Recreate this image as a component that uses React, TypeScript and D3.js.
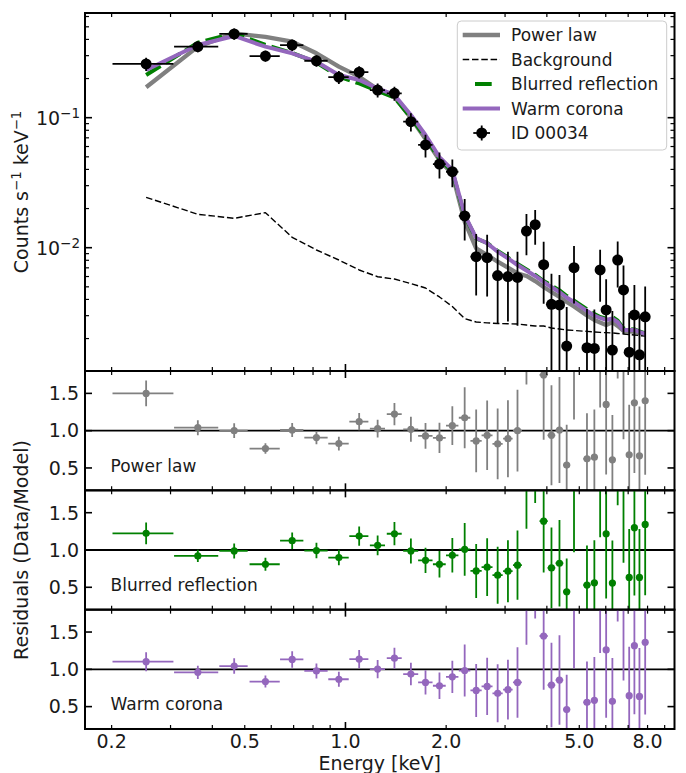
import React from 'react';
import * as d3 from 'd3';

// Spectral bins: centre energy and half-width (keV)
const energy = [0.2536, 0.362, 0.4649, 0.5765, 0.693, 0.819, 0.9556, 1.099, 1.248, 1.401, 1.569, 1.735, 1.91, 2.087, 2.272, 2.459, 2.652, 2.851, 3.06, 3.268, 3.476, 3.691, 3.913, 4.129, 4.363, 4.585, 4.822, 5.272, 5.547, 5.772, 6.016, 6.28, 6.513, 6.779, 7.05, 7.307, 7.566, 7.87];
const energyErr = [0.0524, 0.0546, 0.0452, 0.0597, 0.0555, 0.0656, 0.0671, 0.072, 0.065, 0.072, 0.081, 0.086, 0.084, 0.089, 0.09, 0.095, 0.1, 0.1, 0.1, 0.1, 0.105, 0.11, 0.11, 0.11, 0.115, 0.11, 0.12, 0.13, 0.13, 0.12, 0.12, 0.13, 0.12, 0.13, 0.13, 0.13, 0.13, 0.14];

// Observed count rate (counts s^-1 keV^-1) and 1-sigma errors
const counts = [0.259, 0.352, 0.441, 0.298, 0.362, 0.274, 0.205, 0.224, 0.163, 0.154, 0.0932, 0.0617, 0.044, 0.0384, 0.01754, 0.00853, 0.00838, 0.0061, 0.006, 0.00591, 0.01343, 0.01503, 0.0074, 0.00367, 0.00363, 0.00175, 0.00702, 0.0017, 0.00168, 0.00674, 0.00332, 0.00163, 0.00804, 0.00473, 0.00157, 0.00304, 0.0015, 0.00294];
const countsErr = [0.03, 0.033, 0.044, 0.0286, 0.0355, 0.028, 0.0236, 0.0242, 0.0199, 0.0188, 0.015, 0.0122, 0.01, 0.0092, 0.0062, 0.00424, 0.00417, 0.0035, 0.0033, 0.0034, 0.0047, 0.0045, 0.0037, 0.00264, 0.00254, 0.00175, 0.0033, 0.00167, 0.00167, 0.0029, 0.0024, 0.00163, 0.0031, 0.00256, 0.00157, 0.00213, 0.0015, 0.0021];

// Folded model curves at the bin centres
const powerLaw = [0.1713, 0.3517, 0.4458, 0.4176, 0.3843, 0.3129, 0.2468, 0.2067, 0.1654, 0.1443, 0.0995, 0.0686, 0.0473, 0.0369, 0.01585, 0.00989, 0.00879, 0.0078, 0.00704, 0.00635, 0.00606, 0.00554, 0.00498, 0.00456, 0.00418, 0.00382, 0.00353, 0.00301, 0.00278, 0.00266, 0.00254, 0.00268, 0.0025, 0.00229, 0.00227, 0.00225, 0.00221, 0.00217];
const background = [0.0244, 0.01807, 0.01683, 0.01859, 0.01202, 0.0096, 0.00804, 0.00674, 0.00598, 0.00574, 0.0053, 0.0049, 0.00418, 0.00353, 0.00285, 0.00268, 0.00264, 0.00261, 0.0026, 0.00259, 0.00254, 0.0025, 0.0025, 0.00241, 0.00237, 0.00233, 0.00231, 0.00227, 0.00225, 0.00223, 0.00222, 0.00221, 0.00219, 0.00217, 0.00215, 0.00213, 0.00211, 0.00209];
const blurredReflection = [0.213, 0.3775, 0.4458, 0.3624, 0.3146, 0.2658, 0.2074, 0.1833, 0.1605, 0.143, 0.1003, 0.0704, 0.0481, 0.0386, 0.01753, 0.01177, 0.01087, 0.00943, 0.0084, 0.00749, 0.0068, 0.00617, 0.00554, 0.00512, 0.00469, 0.00425, 0.00392, 0.00335, 0.00309, 0.00293, 0.00285, 0.00293, 0.00275, 0.00239, 0.00237, 0.00235, 0.00227, 0.00219];
const warmCorona = [0.2327, 0.3624, 0.4251, 0.3517, 0.3129, 0.2696, 0.213, 0.195, 0.1678, 0.1495, 0.1049, 0.0736, 0.0498, 0.0396, 0.01784, 0.01188, 0.01081, 0.00932, 0.00829, 0.00736, 0.00668, 0.00606, 0.00545, 0.00498, 0.00456, 0.00414, 0.00382, 0.00326, 0.00301, 0.00288, 0.00278, 0.00285, 0.00268, 0.00233, 0.00233, 0.00233, 0.00225, 0.00217];

// Data/model ratios for each fit
const ratioPowerLaw = [1.499, 1.04, 1.0, 0.76, 1.009, 0.907, 0.827, 1.12, 1.027, 1.223, 1.018, 0.929, 0.903, 1.067, 1.173, 0.863, 0.938, 0.823, 0.893, 1.0, 2.22, 2.66, 1.747, 0.938, 1.009, 0.539, 2.2, 0.623, 0.645, 2.4, 1.352, 0.609, 2.98, 1.84, 0.676, 1.373, 0.663, 1.4];
const ratioPowerLawErr = [0.173, 0.1, 0.1, 0.071, 0.093, 0.089, 0.093, 0.116, 0.12, 0.149, 0.167, 0.173, 0.204, 0.26, 0.41, 0.42, 0.467, 0.473, 0.516, 0.547, 0.6, 0.7, 0.87, 0.67, 0.71, 0.54, 1.05, 0.61, 0.64, 1.09, 0.94, 0.6, 1.28, 0.955, 0.67, 0.94, 0.66, 0.99];
const ratioBlurred = [1.223, 0.92, 0.987, 0.809, 1.125, 0.992, 0.898, 1.187, 1.063, 1.218, 0.987, 0.862, 0.809, 0.929, 1.009, 0.72, 0.769, 0.662, 0.716, 0.796, 2.0, 2.35, 1.387, 0.76, 0.822, 0.44, 1.84, 0.529, 0.56, 2.1, 1.218, 0.556, 2.6, 1.85, 0.632, 1.299, 0.632, 1.343];
const ratioBlurredErr = [0.145, 0.082, 0.1, 0.087, 0.11, 0.104, 0.104, 0.129, 0.133, 0.156, 0.167, 0.169, 0.178, 0.231, 0.353, 0.362, 0.387, 0.382, 0.416, 0.464, 0.715, 0.72, 0.69, 0.54, 0.58, 0.445, 0.87, 0.53, 0.57, 0.93, 0.87, 0.57, 1.0, 1.02, 0.65, 0.91, 0.65, 0.95];
const ratioWarmCorona = [1.102, 0.96, 1.044, 0.836, 1.133, 0.978, 0.867, 1.137, 1.003, 1.149, 0.936, 0.824, 0.78, 0.9, 0.984, 0.717, 0.771, 0.678, 0.727, 0.824, 2.05, 2.4, 1.447, 0.789, 0.856, 0.46, 1.9, 0.557, 0.584, 2.15, 1.26, 0.571, 2.65, 1.85, 0.647, 1.317, 0.637, 1.363];
const ratioWarmCoronaErr = [0.127, 0.089, 0.104, 0.08, 0.111, 0.1, 0.1, 0.122, 0.122, 0.14, 0.151, 0.162, 0.178, 0.216, 0.349, 0.356, 0.384, 0.389, 0.4, 0.473, 0.72, 0.72, 0.72, 0.567, 0.6, 0.467, 0.89, 0.547, 0.58, 0.93, 0.91, 0.58, 1.01, 1.0, 0.657, 0.92, 0.65, 0.97];

const xTickValues = [0.2, 0.5, 1.0, 2.0, 5.0, 8.0];
const xTickLabels = ['0.2', '0.5', '1.0', '2.0', '5.0', '8.0'];
const ratioTickValues = [0.5, 1.0, 1.5];
const ratioTickLabels = ['0.5', '1.0', '1.5'];
const countTickValues = [0.1, 0.01];
const countTickExponents = ['−1', '−2'];

const FONT = '"DejaVu Sans", "Liberation Sans", sans-serif';
const GREY = '#808080';
const GREEN = '#008000';
const PURPLE = '#9467bd';

const W = 686;
const H = 773;
const LEFT = 85;
const RIGHT = 674.5;
const TOP = 13;
const MAIN_BOTTOM = 371;
const RATIO_H = 119.33;

const isDecade = (v: number) => Math.abs(Math.log10(v) - Math.round(Math.log10(v))) < 1e-6;

export default function App() {
  const x = d3.scaleLog().domain([0.1665, 9.63]).range([LEFT, RIGHT]);
  const y = d3.scaleLog().domain([0.001126, 0.6386]).range([MAIN_BOTTOM, TOP]).clamp(true);

  const bins = energy.map((e, i) => ({
    e,
    ex: energyErr[i],
    c: counts[i],
    ce: countsErr[i],
  }));

  const models = [
    { key: 'pl', values: powerLaw, color: GREY, width: 4.3, dash: undefined as string | undefined },
    { key: 'bg', values: background, color: '#000', width: 1.4, dash: '6.5,2.8' },
    { key: 'br', values: blurredReflection, color: GREEN, width: 4, dash: '17,6' },
    { key: 'wc', values: warmCorona, color: PURPLE, width: 4, dash: undefined },
  ];

  const modelLine = (vals: number[]) =>
    d3.line<number>().x((_, i) => x(energy[i])).y((v) => y(v))(vals) || '';

  const ratioPanels = [
    { label: 'Power law', color: GREY, ratio: ratioPowerLaw, err: ratioPowerLawErr },
    { label: 'Blurred reflection', color: GREEN, ratio: ratioBlurred, err: ratioBlurredErr },
    { label: 'Warm corona', color: PURPLE, ratio: ratioWarmCorona, err: ratioWarmCoronaErr },
  ].map((p, i) => {
    const top = MAIN_BOTTOM + i * RATIO_H;
    const bottom = top + RATIO_H;
    return { ...p, top, bottom, ys: d3.scaleLinear().domain([0.2, 1.8]).range([bottom, top]) };
  });

  const xTicks = x.ticks();
  const yTicks = y.ticks();

  const tickLen = (major: boolean) => (major ? 7 : 4);
  const tickW = (major: boolean) => (major ? 1.6 : 1.2);

  const xTickMarks = (top: number, bottom: number, key: string) =>
    xTicks.map((t, i) => {
      const major = isDecade(t);
      const px = x(t);
      return (
        <g key={`${key}-x${i}`} stroke="#000" strokeWidth={tickW(major)}>
          <line x1={px} x2={px} y1={bottom} y2={bottom - tickLen(major)} />
          <line x1={px} x2={px} y1={top} y2={top + tickLen(major)} />
        </g>
      );
    });

  const legendRows = [41, 65.5, 90, 114.5, 139];
  const legendLabels = ['Power law', 'Background', 'Blurred reflection', 'Warm corona', 'ID 00034'];

  return (
    <svg
      width={W}
      height={H}
      viewBox={`0 0 ${W} ${H}`}
      style={{ position: 'absolute', left: 0, top: 0, background: '#fff' }}
      fontFamily={FONT}
    >
      <defs>
        <clipPath id="clip-main">
          <rect x={LEFT} y={TOP} width={RIGHT - LEFT} height={MAIN_BOTTOM - TOP} />
        </clipPath>
        {ratioPanels.map((p, i) => (
          <clipPath id={`clip-r${i}`} key={i}>
            <rect x={LEFT} y={p.top} width={RIGHT - LEFT} height={p.bottom - p.top} />
          </clipPath>
        ))}
      </defs>

      {/* Spectrum panel */}
      <g clipPath="url(#clip-main)">
        {models.map((m) => (
          <path
            key={m.key}
            d={modelLine(m.values)}
            fill="none"
            stroke={m.color}
            strokeWidth={m.width}
            strokeDasharray={m.dash}
            strokeLinejoin="round"
          />
        ))}
        <g stroke="#000" strokeWidth={1.8}>
          {bins.map((b, i) => {
            const lo = b.c - b.ce > 0 ? b.c - b.ce : 1e-6;
            return (
              <g key={i}>
                <line x1={x(b.e - b.ex)} x2={x(b.e + b.ex)} y1={y(b.c)} y2={y(b.c)} />
                <line x1={x(b.e)} x2={x(b.e)} y1={y(lo)} y2={y(b.c + b.ce)} />
              </g>
            );
          })}
        </g>
        {bins.map((b, i) => (
          <circle key={i} cx={x(b.e)} cy={y(b.c)} r={5.5} fill="#000" />
        ))}
      </g>

      {/* Ratio panels */}
      {ratioPanels.map((p, pi) => (
        <g key={pi}>
          <g clipPath={`url(#clip-r${pi})`}>
            <line x1={LEFT} x2={RIGHT} y1={p.ys(1)} y2={p.ys(1)} stroke="#000" strokeWidth={1.8} />
            <g stroke={p.color} strokeWidth={1.8}>
              {energy.map((e, i) => (
                <g key={i}>
                  <line
                    x1={x(e - energyErr[i])}
                    x2={x(e + energyErr[i])}
                    y1={p.ys(p.ratio[i])}
                    y2={p.ys(p.ratio[i])}
                  />
                  <line
                    x1={x(e)}
                    x2={x(e)}
                    y1={p.ys(p.ratio[i] - p.err[i])}
                    y2={p.ys(p.ratio[i] + p.err[i])}
                  />
                </g>
              ))}
            </g>
            {energy.map((e, i) => (
              <circle key={i} cx={x(e)} cy={p.ys(p.ratio[i])} r={3.6} fill={p.color} />
            ))}
          </g>
          <text x={110.5} y={p.top + 100.7} fontSize={17} fill="#1a1a1a">
            {p.label}
          </text>
          {xTickMarks(p.top, p.bottom, `r${pi}`)}
          {ratioTickValues.map((t, i) => (
            <g key={i} stroke="#000" strokeWidth={1.6}>
              <line x1={LEFT} x2={LEFT + 7} y1={p.ys(t)} y2={p.ys(t)} />
              <line x1={RIGHT} x2={RIGHT - 7} y1={p.ys(t)} y2={p.ys(t)} />
            </g>
          ))}
          {ratioTickValues.map((t, i) => (
            <text key={`l${i}`} x={79} y={p.ys(t) + 6.8} fontSize={19} textAnchor="end" fill="#1a1a1a">
              {ratioTickLabels[i]}
            </text>
          ))}
          <rect
            x={LEFT}
            y={p.top}
            width={RIGHT - LEFT}
            height={p.bottom - p.top}
            fill="none"
            stroke="#000"
            strokeWidth={2}
          />
        </g>
      ))}

      {/* Spectrum panel axes */}
      {xTickMarks(TOP, MAIN_BOTTOM, 'main')}
      {yTicks.map((t, i) => {
        const major = isDecade(t);
        return (
          <g key={i} stroke="#000" strokeWidth={tickW(major)}>
            <line x1={LEFT} x2={LEFT + tickLen(major)} y1={y(t)} y2={y(t)} />
            <line x1={RIGHT} x2={RIGHT - tickLen(major)} y1={y(t)} y2={y(t)} />
          </g>
        );
      })}
      {countTickValues.map((t, i) => (
        <text key={i} x={80} y={y(t) + 7.3} fontSize={19} textAnchor="end" fill="#1a1a1a">
          10
          <tspan fontSize={13.5} dy={-6.5}>
            {countTickExponents[i]}
          </tspan>
        </text>
      ))}
      <rect
        x={LEFT}
        y={TOP}
        width={RIGHT - LEFT}
        height={MAIN_BOTTOM - TOP}
        fill="none"
        stroke="#000"
        strokeWidth={2}
      />

      {/* Energy axis labels */}
      {xTickValues.map((t, i) => (
        <text key={i} x={x(t)} y={748} fontSize={19} textAnchor="middle" fill="#1a1a1a">
          {xTickLabels[i]}
        </text>
      ))}
      <text x={(LEFT + RIGHT) / 2} y={769.5} fontSize={19} textAnchor="middle" fill="#1a1a1a">
        Energy [keV]
      </text>

      <text
        transform={`translate(28, ${(TOP + MAIN_BOTTOM) / 2}) rotate(-90)`}
        fontSize={19}
        textAnchor="middle"
        fill="#1a1a1a"
      >
        Counts s
        <tspan fontSize={13.3} dy={-7}>−1</tspan>
        <tspan dy={7}> keV</tspan>
        <tspan fontSize={13.3} dy={-7}>−1</tspan>
      </text>
      <text
        transform={`translate(28, ${(MAIN_BOTTOM + ratioPanels[2].bottom) / 2}) rotate(-90)`}
        fontSize={19}
        textAnchor="middle"
        fill="#1a1a1a"
      >
        Residuals (Data/Model)
      </text>

      {/* Legend */}
      <g>
        <rect x={457.3} y={21} width={209.4} height={129} rx={4} fill="#fff" fillOpacity={0.8} stroke="#cccccc" strokeWidth={1} />
        <line x1={462.7} x2={500} y1={legendRows[0] - 6} y2={legendRows[0] - 6} stroke={GREY} strokeWidth={4.3} />
        <line x1={462.7} x2={500} y1={legendRows[1] - 6} y2={legendRows[1] - 6} stroke="#000" strokeWidth={1.4} strokeDasharray="6.5,2.8" />
        <line x1={475} x2={491.7} y1={legendRows[2] - 6} y2={legendRows[2] - 6} stroke={GREEN} strokeWidth={4} />
        <line x1={462.7} x2={500} y1={legendRows[3] - 6} y2={legendRows[3] - 6} stroke={PURPLE} strokeWidth={4} />
        <g stroke="#000" strokeWidth={1.8}>
          <line x1={473.3} x2={490} y1={legendRows[4] - 6} y2={legendRows[4] - 6} />
          <line x1={481.7} x2={481.7} y1={legendRows[4] - 13.5} y2={legendRows[4] + 1.5} />
        </g>
        <circle cx={481.7} cy={legendRows[4] - 6} r={5.5} fill="#000" />
        {legendLabels.map((t, i) => (
          <text key={i} x={511} y={legendRows[i]} fontSize={17} fill="#1a1a1a">
            {t}
          </text>
        ))}
      </g>
    </svg>
  );
}
